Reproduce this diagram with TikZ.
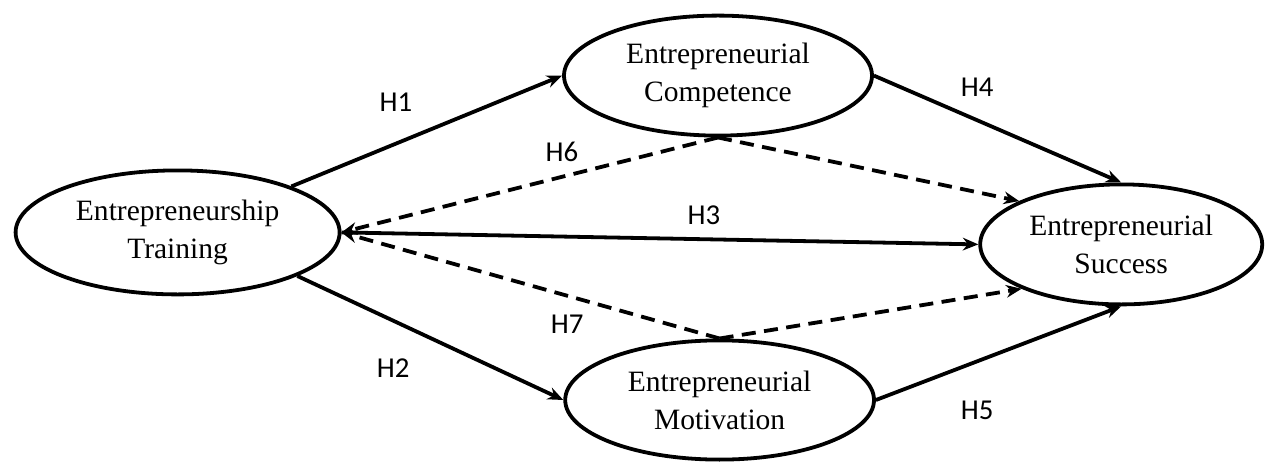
\documentclass[tikz,border=0pt]{standalone}
\usepackage{fontspec}
\setmainfont{Liberation Serif}
\newfontfamily\hfont{Carlito}
\usetikzlibrary{shapes,arrows.meta,positioning}

\begin{document}
\begin{tikzpicture}[
        construct/.style={draw, ellipse, line width=2.7pt, inner sep=0pt, align=center,
            font=\fontsize{21}{27}\selectfont},
        hyp/.style={font=\hfont\fontsize{20.5}{24}\selectfont},
        arrow/.style={-{Stealth[length=11pt, width=9pt]}, line width=2.7pt},
        dasharrow/.style={arrow, dash pattern=on 10pt off 6pt}
    ]
        \useasboundingbox (0,0) rectangle (31.65,11.6);

        % Constructs
        \node[construct, minimum width=8.1cm, minimum height=3.1cm] (train) at (4.44,5.79) {Entrepreneurship\\Training};
        \node[construct, minimum width=7.7cm, minimum height=3.0cm] (comp) at (17.95,9.71) {Entrepreneurial\\Competence};
        \node[construct, minimum width=7.72cm, minimum height=2.98cm] (motiv) at (17.99,1.6) {Entrepreneurial\\Motivation};
        \node[construct, minimum width=7.05cm, minimum height=3.0cm] (succ) at (28.03,5.49) {Entrepreneurial\\Success};

        % Paths
        \draw[arrow] (train.22) -- (comp.west);
        \draw[arrow] (train.-20) -- (motiv.west);
        \draw[arrow] (train.east) -- (succ.west);
        \draw[arrow] (comp.east) -- (succ.north);
        \draw[arrow] (motiv.east) -- (succ.south);
        \draw[dasharrow] (comp.south) -- (train.east);
        \draw[dasharrow] (motiv.north) -- (train.east);
        \draw[dasharrow] (comp.south) -- (succ.157);
        \draw[dasharrow] (motiv.north) -- (succ.204);

        % Hypothesis labels
        \node[hyp] (h1) at (9.9,9.05) {H1};
        \node[hyp] (h2) at (9.83,2.4) {H2};
        \node[hyp] (h3) at (17.6,6.22) {H3};
        \node[hyp] (h4) at (24.43,9.43) {H4};
        \node[hyp] (h5) at (24.43,1.35) {H5};
        \node[hyp] (h6) at (14.05,7.8) {H6};
        \node[hyp] (h7) at (14.18,3.5) {H7};
    \end{tikzpicture}
\end{document}
